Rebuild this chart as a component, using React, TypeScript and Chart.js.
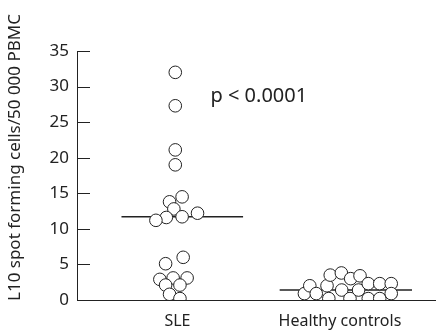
import React, { useEffect, useRef } from "react";
import { Chart, registerables } from "chart.js";

Chart.register(...registerables);

const categories = ["SLE", "Healthy controls"];
const categoryX = [28.0, 73.3];

// SLE spot forming cells (x = jittered position, y = value)
const sleX = [27.4, 27.4, 27.4, 27.4, 29.3, 25.8, 27.0, 33.6, 29.3, 24.9, 22.0, 29.6, 24.7, 23.1, 26.8, 30.7, 24.7, 28.7, 25.8, 28.7];
const sleY = [32.0, 27.3, 21.1, 19.0, 14.5, 13.8, 12.8, 12.2, 11.7, 11.6, 11.2, 6.0, 5.1, 2.9, 3.1, 3.1, 2.1, 2.1, 0.8, 0.2];

// Healthy controls
const hcX = [63.4, 64.9, 66.7, 69.7, 70.2, 70.6, 73.7, 73.8, 76.3, 76.1, 78.5, 78.9, 81.2, 81.2, 84.4, 84.4, 87.6, 87.6];
const hcY = [0.9, 2.0, 0.9, 2.0, 0.2, 3.5, 3.8, 1.4, 3.0, 0.2, 1.4, 3.4, 2.3, 0.2, 2.3, 0.2, 2.3, 0.9];

// medians (x extent of the line, value)
const sleMedianX = [12.4, 46.3];
const sleMedian = 11.7;
const hcMedianX = [56.5, 93.4];
const hcMedian = 1.4;

const yTicks = [0, 5, 10, 15, 20, 25, 30, 35];
const yTitle = "L10 spot forming cells/50 000 PBMC";
const pText = "p < 0.0001";
const pPos = { x: 37.2, y: 28.6 };

const FONT = "'Noto Sans', sans-serif";
const INK = "#222";

export default function App() {
  const ref = useRef<HTMLCanvasElement | null>(null);
  useEffect(() => {
    document.body.style.margin = "0";
    const canvas = ref.current!;
    const decor = {
      id: "decor",
      beforeDatasetsDraw(chart: any) {
        const ctx = chart.ctx;
        const ys = chart.scales.y;
        const left = chart.chartArea.left;
        ctx.save();
        ctx.strokeStyle = INK;
        ctx.lineWidth = 1;
        for (const t of yTicks) {
          if (t === 0) continue;
          const py = Math.round(ys.getPixelForValue(t)) + 0.5;
          ctx.beginPath();
          ctx.moveTo(left, py);
          ctx.lineTo(left + 13, py);
          ctx.stroke();
        }
        ctx.restore();
      },
      afterDraw(chart: any) {
        const ctx = chart.ctx;
        const xs = chart.scales.x;
        const ys = chart.scales.y;
        ctx.save();
        ctx.fillStyle = INK;
        ctx.textBaseline = "middle";
        ctx.textAlign = "left";
        ctx.font = `20px ${FONT}`;
        ctx.fillText(pText, xs.getPixelForValue(pPos.x), ys.getPixelForValue(pPos.y));
        ctx.font = `17px ${FONT}`;
        ctx.translate(15, ys.getPixelForValue(0) + 1);
        ctx.rotate(-Math.PI / 2);
        ctx.fillText(yTitle, 0, 0);
        ctx.restore();
      },
    };
    const pointStyle = {
      showLine: false,
      pointRadius: 6.3,
      pointBackgroundColor: "#fff",
      pointBorderColor: INK,
      pointBorderWidth: 1,
      order: 0,
    };
    const chart = new Chart(canvas, {
      type: "scatter",
      data: {
        datasets: [
          {
            label: "SLE median",
            data: sleMedianX.map((x) => ({ x, y: sleMedian })),
            showLine: true,
            borderColor: INK,
            borderWidth: 1.5,
            pointRadius: 0,
            order: 2,
          },
          {
            label: "HC median",
            data: hcMedianX.map((x) => ({ x, y: hcMedian })),
            showLine: true,
            borderColor: INK,
            borderWidth: 1.5,
            pointRadius: 0,
            order: 2,
          },
          { label: categories[0], data: sleX.map((x, i) => ({ x, y: sleY[i] })), ...pointStyle },
          { label: categories[1], data: hcX.map((x, i) => ({ x, y: hcY[i] })), ...pointStyle },
        ],
      },
      options: {
        animation: false,
        responsive: false,
        maintainAspectRatio: false,
        layout: { padding: { top: 51, right: 3, left: 0, bottom: 0 } },
        plugins: { legend: { display: false }, tooltip: { enabled: false } },
        scales: {
          x: {
            type: "linear",
            min: 0,
            max: 100,
            grid: { display: false, drawTicks: false },
            border: { display: true, color: INK, width: 1 },
            afterBuildTicks: (s: any) => {
              s.ticks = categoryX.map((v) => ({ value: v }));
            },
            afterFit: (s: any) => {
              s.height = 32;
            },
            ticks: {
              padding: 12,
              color: INK,
              font: { family: FONT, size: 16 },
              maxRotation: 0,
              autoSkip: false,
              callback: (v: any) => categories[categoryX.indexOf(Number(v))] ?? "",
            },
          },
          y: {
            min: 0,
            max: 35,
            grid: { display: false, drawTicks: false },
            border: { display: true, color: INK, width: 1 },
            afterBuildTicks: (s: any) => {
              s.ticks = yTicks.map((v) => ({ value: v }));
            },
            afterFit: (s: any) => {
              s.width = 77;
            },
            ticks: {
              padding: 8,
              color: INK,
              font: { family: FONT, size: 17 },
            },
          },
        },
      },
      plugins: [decor],
    });
    return () => chart.destroy();
  }, []);
  return (
    <div style={{ width: 443, height: 332 }}>
      <canvas ref={ref} width={443} height={332} style={{ display: "block" }} />
    </div>
  );
}
